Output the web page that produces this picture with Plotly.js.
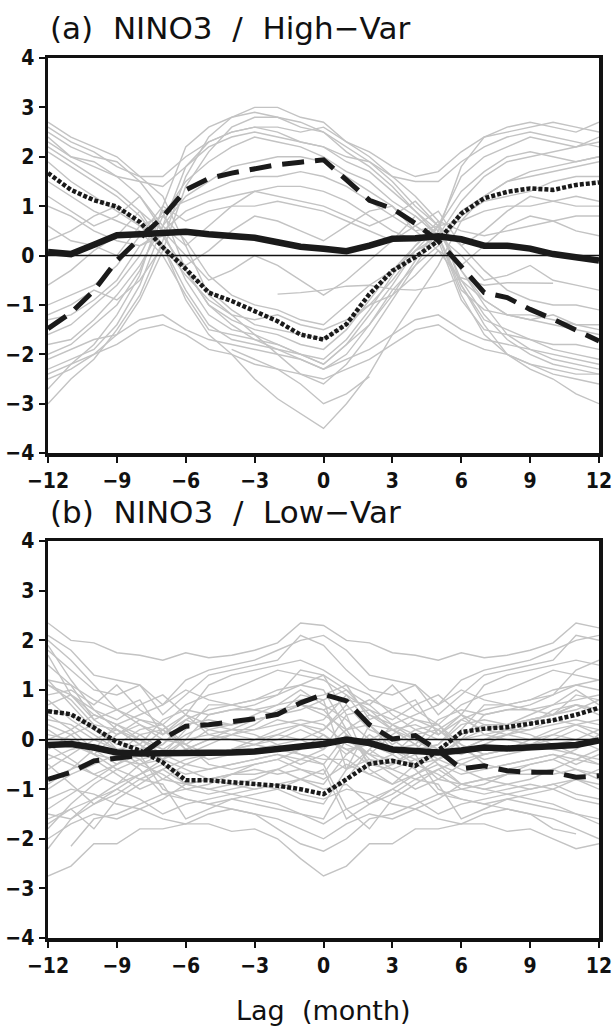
<!DOCTYPE html>
<html>
<head>
<meta charset="utf-8">
<script src="https://cdn.plot.ly/plotly-3.0.1.min.js"></script>
<style>html,body{margin:0;padding:0;background:#fff;}#chart{width:615px;height:1026px;}</style>
</head>
<body>
<div id="chart"></div>
<script>
const lags = [-12,-11,-10,-9,-8,-7,-6,-5,-4,-3,-2,-1,0,1,2,3,4,5,6,7,8,9,10,11,12];
const xTickVals = [-12,-9,-6,-3,0,3,6,9,12];
const yTickVals = [-4,-3,-2,-1,0,1,2,3,4];
const panelTitles = ["(a)\u00a0 NINO3\u00a0 /\u00a0 High\u2212Var", "(b)\u00a0 NINO3\u00a0 /\u00a0 Low\u2212Var"];
const xTitle = "Lag\u00a0 (month)";

// Panel (a) black curves
const aSolid  = [0.07,0.03,0.22,0.41,0.43,0.45,0.48,0.43,0.39,0.36,0.27,0.18,0.14,0.09,0.2,0.34,0.35,0.39,0.33,0.2,0.2,0.14,0.03,-0.03,-0.1];
const aDashed = [-1.48,-1.16,-0.71,-0.1,0.35,0.78,1.33,1.56,1.67,1.75,1.84,1.89,1.94,1.53,1.12,0.95,0.65,0.3,-0.24,-0.75,-0.85,-1.09,-1.29,-1.5,-1.73];
const aDotted = [1.67,1.33,1.12,0.99,0.68,0.17,-0.27,-0.75,-0.92,-1.12,-1.33,-1.6,-1.7,-1.39,-0.78,-0.31,-0.03,0.3,0.85,1.16,1.29,1.36,1.33,1.43,1.48];

// Panel (b) black curves
const bSolid  = [-0.11,-0.09,-0.16,-0.26,-0.28,-0.28,-0.29,-0.26,-0.26,-0.24,-0.2,-0.14,-0.09,0.0,-0.07,-0.2,-0.22,-0.26,-0.22,-0.16,-0.18,-0.16,-0.14,-0.11,-0.02];
const bDashed = [-0.8,-0.66,-0.43,-0.38,-0.32,0.01,0.27,0.3,0.35,0.42,0.51,0.74,0.91,0.78,0.3,0.01,0.08,-0.22,-0.59,-0.53,-0.63,-0.66,-0.66,-0.76,-0.73];
const bDotted = [0.57,0.51,0.24,-0.05,-0.22,-0.46,-0.82,-0.82,-0.86,-0.9,-0.93,-1.0,-1.1,-0.8,-0.49,-0.43,-0.53,-0.22,0.15,0.22,0.25,0.32,0.39,0.5,0.64];

// Panel (a) individual members (gray)
const aGray = [
 [2.7,2.4,2.2,2.0,1.6,1.2,0.2,-0.8,-1.2,-1.6,-2.0,-2.4,-2.6,-2.2,-1.6,-0.9,-0.2,0.5,1.8,2.4,2.6,2.7,2.6,2.5,2.7],
 [2.5,2.2,2.0,1.9,1.5,0.9,-0.3,-1.0,-1.4,-1.7,-1.9,-2.1,-2.3,-2.0,-1.4,-0.8,-0.1,0.6,1.6,2.0,2.2,2.4,2.3,2.2,2.4],
 [2.4,2.0,1.8,1.6,1.2,0.5,-0.5,-1.2,-1.5,-1.6,-1.8,-2.0,-2.2,-1.8,-1.2,-0.6,0.1,0.4,1.1,1.6,1.9,2.0,2.1,2.2,2.3],
 [2.2,1.9,1.6,1.3,0.9,0.2,-0.7,-1.4,-1.7,-1.8,-1.9,-2.0,-2.1,-1.7,-1.1,-0.4,0.2,0.6,1.3,1.7,2.0,2.1,2.0,1.9,2.0],
 [1.9,1.5,1.2,0.9,0.6,0.4,-0.3,-1.0,-1.3,-1.5,-1.6,-1.8,-1.9,-1.5,-0.9,-0.3,0.1,0.3,0.9,1.2,1.5,1.6,1.7,1.8,1.9],
 [1.5,1.2,0.9,0.7,0.5,0.0,-0.8,-1.5,-1.6,-1.7,-1.8,-2.0,-2.2,-1.8,-1.4,-0.7,-0.2,0.2,0.8,1.1,1.2,1.3,1.5,1.6,1.6],
 [1.0,0.8,0.5,0.3,0.2,0.4,-0.3,-0.7,-1.1,-1.4,-1.5,-1.6,-1.7,-1.4,-1.0,-0.5,0.1,0.6,0.7,0.9,1.0,1.0,1.1,1.2,1.1],
 [0.6,0.3,0.2,0.0,0.6,0.8,0.3,-0.4,-0.8,-1.0,-1.1,-1.3,-1.4,-1.0,-0.6,-0.3,0.2,0.7,0.5,0.4,0.5,0.6,0.7,0.8,0.8],
 [2.1,1.8,1.5,1.2,0.8,0.2,-0.9,-1.6,-2.0,-2.5,-2.9,-3.2,-3.5,-3.0,-2.4,-1.6,-0.9,-0.2,0.7,1.2,1.5,1.7,1.8,1.9,2.0],
 [null,null,null,null,null,null,null,null,-1.9,-2.1,-2.3,-2.6,-3.0,-2.8,-2.45,null,null,null,null,null,null,null,null,null,null],
 [-3.0,-2.5,-2.1,-1.5,-0.8,0.3,1.6,2.4,2.8,3.0,3.0,2.8,2.7,2.3,2.0,1.6,1.2,0.7,-0.6,-1.4,-2.0,-2.3,-2.5,-2.8,-3.0],
 [-2.5,-2.3,-2.0,-1.6,-0.9,0.1,1.4,2.1,2.6,2.8,2.8,2.7,2.5,2.2,1.9,1.5,1.0,0.6,-0.5,-1.2,-1.7,-2.0,-2.2,-2.3,-2.4],
 [-2.3,-2.1,-1.9,-1.4,-0.6,0.6,1.8,2.3,2.5,2.6,2.5,2.3,2.2,1.9,1.7,1.3,0.9,0.5,-0.3,-1.0,-1.6,-1.9,-2.1,-2.2,-2.3],
 [-2.0,-1.8,-1.4,-1.0,-0.3,0.8,1.5,1.9,2.2,2.4,2.3,2.2,2.0,1.7,1.5,1.1,0.8,0.4,-0.6,-1.3,-1.5,-1.7,-1.9,-2.0,-2.1],
 [-1.8,-1.7,-1.3,-0.8,-0.2,0.6,1.2,1.5,1.8,1.9,2.0,2.0,1.9,1.6,1.3,1.0,0.6,0.3,-0.9,-1.5,-1.6,-1.7,-1.8,-1.8,-1.9],
 [-1.6,-1.4,-1.0,-0.6,0.0,0.9,1.1,1.3,1.5,1.6,1.6,1.7,1.6,1.4,1.1,0.8,0.5,0.6,-0.3,-0.9,-1.2,-1.3,-1.4,-1.5,-1.6],
 [-1.3,-1.2,-0.9,-0.5,0.2,0.5,0.9,1.1,1.2,1.3,1.4,1.4,1.3,1.1,0.8,0.5,0.3,0.4,-0.7,-1.1,-1.2,-1.2,-1.3,-1.4,-1.4],
 [-1.0,-0.8,-0.6,-0.2,0.4,1.0,0.7,0.9,1.0,1.0,1.1,1.0,0.9,0.7,0.5,0.3,0.6,0.9,0.2,-0.3,-0.7,-0.9,-1.0,-1.0,-1.1],
 [-2.7,-2.2,-1.8,-1.2,-0.4,1.0,2.2,2.6,2.8,2.9,2.8,2.6,2.5,2.1,1.8,1.4,0.9,0.4,-0.8,-1.6,-2.0,-2.2,-2.4,-2.5,-2.6],
 [2.6,2.3,2.1,1.8,1.6,1.6,2.0,2.3,2.5,2.6,2.6,2.5,2.6,2.3,2.1,1.8,1.6,1.7,2.1,2.4,2.5,2.6,2.7,2.6,2.5],
 [2.3,2.0,1.9,1.6,1.5,1.4,1.8,2.2,2.4,2.5,2.4,2.3,2.2,2.0,1.9,1.6,1.5,1.5,1.9,2.2,2.4,2.5,2.4,2.3,2.2],
 [-2.4,-2.2,-2.0,-1.8,-1.5,-1.4,-1.6,-1.9,-2.0,-2.2,-2.3,-2.4,-2.5,-2.3,-2.1,-1.8,-1.5,-1.4,-1.7,-1.9,-2.0,-2.2,-2.3,-2.4,-2.4],
 [-2.1,-1.9,-1.7,-1.6,-1.3,-1.2,-1.5,-1.7,-1.8,-1.9,-2.0,-2.1,-2.3,-2.1,-1.9,-1.6,-1.3,-1.2,-1.5,-1.7,-1.8,-1.9,-2.0,-2.1,-2.2],
 [0.3,0.5,0.8,1.0,0.6,0.2,-0.2,0.1,0.5,0.8,0.7,0.5,0.3,0.6,0.9,1.0,0.5,0.1,-0.2,0.2,0.6,0.8,0.7,0.5,0.4],
 [-0.6,-0.3,0.1,0.4,0.9,0.5,0.0,-0.5,-0.3,0.0,-0.2,-0.5,-0.8,-0.5,-0.1,0.3,0.8,0.4,0.0,-0.5,-0.4,-0.2,-0.5,-0.6,-0.7],
 [1.2,0.9,0.6,0.8,1.2,0.6,0.2,0.6,1.0,1.3,1.2,1.1,1.0,0.8,0.6,0.8,1.1,0.6,0.2,0.5,0.9,1.2,1.1,1.0,1.0],
 [-1.2,-1.0,-0.7,-0.9,-0.5,0.2,-0.4,-0.9,-1.2,-1.3,-1.2,-1.4,-1.5,-1.3,-1.0,-0.8,-0.4,0.1,-0.5,-0.9,-1.2,-1.3,-1.2,-1.4,-1.5],
 [null,null,null,null,null,null,null,null,null,null,-0.78,-0.75,-0.7,-0.62,-0.6,-0.68,-0.7,-0.62,-0.45,-0.6,-0.55,-0.55,-0.56,null,null]
];

// Panel (b) individual members (gray)
const bGray = [
 [2.35,2.0,1.95,1.75,1.7,1.6,1.75,1.65,1.7,1.8,1.95,2.35,2.3,2.0,1.95,1.75,1.7,1.6,1.75,1.65,1.7,1.8,1.95,2.35,2.25],
 [2.1,1.8,1.3,1.2,1.1,0.7,1.2,1.4,1.5,1.6,1.8,2.0,2.1,1.8,1.3,1.2,1.1,0.7,1.2,1.4,1.5,1.6,1.8,2.0,2.1],
 [1.8,1.4,1.0,0.9,1.1,0.5,0.9,1.3,1.4,1.5,1.6,2.1,1.9,1.4,1.0,0.9,1.1,0.5,0.9,1.3,1.4,1.5,1.6,2.1,2.0],
 [1.2,1.1,0.4,0.6,0.8,0.1,0.5,1.1,1.3,1.4,1.5,1.6,1.4,1.1,0.4,0.6,0.8,0.1,0.5,1.1,1.3,1.4,1.5,1.6,1.5],
 [0.6,0.5,0.2,-0.1,0.2,0.3,0.7,0.9,1.0,1.2,1.4,1.3,1.2,0.9,0.3,-0.1,0.2,0.3,0.7,0.9,1.0,1.2,1.4,1.3,1.2],
 [1.1,0.9,0.4,0.1,0.3,0.1,0.4,0.6,0.7,0.8,1.0,1.1,1.3,1.0,0.5,0.2,0.3,0.1,0.4,0.6,0.7,0.8,1.0,1.1,1.2],
 [2.0,1.6,1.1,0.6,0.3,0.0,-0.1,0.2,0.3,0.5,0.7,0.8,0.9,1.1,0.9,0.5,0.2,0.0,0.0,0.2,0.3,0.5,0.7,0.8,0.9],
 [1.7,0.9,0.5,0.3,0.1,-0.2,-0.3,-0.1,0.1,0.3,0.6,0.7,0.6,0.8,0.7,0.3,0.1,-0.2,-0.3,-0.1,0.1,0.3,0.6,0.7,0.6],
 [0.9,1.0,0.7,1.1,0.6,0.3,-0.2,0.0,0.2,0.4,0.5,0.6,0.8,1.0,0.7,1.1,0.6,0.3,-0.2,0.0,0.2,0.4,0.5,0.6,0.8],
 [0.4,0.3,0.0,-0.2,-0.1,0.4,0.6,0.5,0.6,0.6,0.7,1.0,0.7,0.4,0.0,-0.2,-0.1,0.4,0.6,0.5,0.6,0.6,0.7,1.0,0.7],
 [-0.2,0.1,0.3,0.2,0.0,-0.2,0.1,0.3,0.3,0.4,0.5,0.7,0.5,0.2,0.3,0.2,0.0,-0.2,0.1,0.3,0.3,0.4,0.5,0.7,0.5],
 [0.2,-0.1,-0.3,-0.4,-0.5,-0.3,0.0,0.1,0.2,0.2,0.3,0.4,0.3,-0.1,-0.3,-0.4,-0.5,-0.3,0.0,0.1,0.2,0.2,0.3,0.4,0.3],
 [-0.6,-0.3,0.0,0.2,-0.1,-0.4,-0.2,0.0,0.1,0.0,0.2,0.3,0.1,-0.3,0.0,0.2,-0.1,-0.4,-0.2,0.0,0.1,0.0,0.2,0.3,0.1],
 [-1.0,-0.7,-0.5,-0.3,0.1,0.2,-0.1,-0.3,-0.2,-0.1,0.0,0.2,0.0,-0.2,-0.5,-0.3,0.1,0.2,-0.1,-0.3,-0.2,-0.1,0.0,0.2,0.0],
 [-1.4,-1.1,-0.8,-0.5,-0.2,-0.1,0.3,0.4,0.3,0.4,0.5,0.7,0.6,0.1,-0.4,-0.5,-0.2,-0.1,0.3,0.4,0.3,0.4,0.5,0.7,0.6],
 [-1.8,-1.3,-0.9,-0.6,-0.4,-0.3,0.2,0.7,0.7,0.8,0.9,1.1,1.0,0.2,-0.5,-0.6,-0.4,-0.3,0.2,0.7,0.7,0.8,0.9,1.1,1.0],
 [-2.2,-1.6,-1.2,-0.9,-0.5,-0.4,0.0,0.5,0.6,0.7,0.9,1.4,1.3,0.5,-0.6,-0.9,-0.5,-0.4,0.0,0.5,0.6,0.7,0.9,1.4,1.6],
 [0.3,0.1,-0.3,-0.6,-0.8,-0.6,-0.4,-0.3,-0.2,-0.1,-0.2,-0.3,-0.5,0.1,-0.3,-0.6,-0.8,-0.6,-0.4,-0.3,-0.2,-0.1,-0.2,-0.3,-0.5],
 [0.8,0.4,0.1,-0.2,-0.4,-0.8,-0.9,-0.8,-0.7,-0.7,-0.6,-0.8,-0.9,-0.3,0.1,-0.2,-0.4,-0.8,-0.9,-0.8,-0.7,-0.7,-0.6,-0.8,-0.9],
 [1.1,0.8,0.3,-0.2,-0.5,-0.7,-1.0,-1.1,-1.0,-0.9,-1.0,-1.2,-1.3,-0.6,0.3,-0.2,-0.5,-0.7,-1.0,-1.1,-1.0,-0.9,-1.0,-1.2,-1.3],
 [0.5,0.2,-0.2,-0.5,-0.3,-1.0,-1.2,-1.3,-1.2,-1.3,-1.4,-1.5,-1.6,-0.8,-0.2,-0.5,-0.3,-1.0,-1.2,-1.3,-1.2,-1.3,-1.4,-1.5,-1.6],
 [-0.3,-0.5,-0.7,-0.9,-0.7,-0.4,-0.6,-0.8,-0.7,-0.6,-0.7,-0.6,-0.8,-0.5,-0.7,-0.9,-0.7,-0.4,-0.6,-0.8,-0.7,-0.6,-0.7,-0.6,-0.8],
 [-0.8,-0.6,-0.4,-0.7,-1.0,-0.8,-0.5,-0.6,-0.5,-0.4,-0.3,-0.5,-0.3,-0.6,-0.4,-0.7,-1.0,-0.8,-0.5,-0.6,-0.5,-0.4,-0.3,-0.5,-0.3],
 [-1.2,-1.0,-1.1,-1.3,-1.4,-1.2,-0.9,-0.8,-0.9,-1.0,-0.9,-1.1,-1.2,-1.0,-1.1,-1.3,-1.4,-1.2,-0.9,-0.8,-0.9,-1.0,-0.9,-1.1,-1.2],
 [-1.6,-1.4,-1.2,-1.0,-1.2,-1.5,-1.3,-1.2,-1.1,-1.2,-1.3,-1.5,-1.7,-1.4,-1.2,-1.0,-1.2,-1.5,-1.3,-1.2,-1.1,-1.2,-1.3,-1.5,-1.7],
 [-2.0,-1.7,-1.5,-1.6,-1.4,-1.6,-1.7,-1.5,-1.4,-1.5,-1.6,-1.8,-2.0,-1.7,-1.5,-1.6,-1.4,-1.6,-1.7,-1.5,-1.4,-1.5,-1.6,-1.8,-2.0],
 [-2.75,-2.55,-2.1,-2.1,-1.8,-1.8,-1.7,-1.7,-1.85,-1.8,-2.0,-2.4,-2.75,-2.55,-2.1,-2.1,-1.8,-1.8,-1.7,-1.7,-1.85,-1.8,-2.0,-2.2,-2.1],
 [null,-2.15,-1.6,-1.5,-1.3,-1.1,-1.2,-1.3,-1.4,-1.5,-1.8,-2.1,-2.25,-2.0,-1.6,-1.5,-1.3,-1.1,-1.2,-1.3,-1.4,-1.5,-1.8,-1.9,null],
 [-0.5,-0.9,-1.3,-1.0,-0.7,-0.5,-0.9,-1.0,-1.1,-1.0,-0.9,-0.8,-1.0,-0.9,-1.3,-1.0,-0.7,-0.5,-0.9,-1.0,-1.1,-1.0,-0.9,-0.8,-1.0],
 [0.0,0.2,0.5,0.3,0.0,-0.3,-0.5,-0.3,-0.2,0.0,0.1,0.0,-0.2,0.2,0.5,0.3,0.0,-0.3,-0.5,-0.3,-0.2,0.0,0.1,0.0,-0.2],
 [-0.1,-0.4,-0.7,-0.5,-0.2,0.2,0.5,0.3,0.2,0.1,-0.1,-0.3,-0.4,-0.4,-0.7,-0.5,-0.2,0.2,0.5,0.3,0.2,0.1,-0.1,-0.3,-0.4],
 [1.5,1.1,0.8,0.6,0.4,0.2,-0.2,-0.4,-0.3,-0.2,-0.1,0.0,0.2,0.6,0.8,0.6,0.4,0.2,-0.2,-0.4,-0.3,-0.2,-0.1,0.0,0.2],
 [1.9,1.2,0.6,0.2,-0.1,-0.5,-0.7,-0.6,-0.5,-0.4,-0.3,-0.4,-0.2,0.5,0.6,0.2,-0.1,-0.5,-0.7,-0.6,-0.5,-0.4,-0.3,-0.4,-0.2],
 [-0.9,-0.6,-0.2,0.3,0.5,0.7,1.0,0.8,0.7,0.6,0.5,0.9,0.8,-0.6,-0.2,0.3,0.5,0.7,1.0,0.8,0.7,0.6,0.5,0.9,0.8],
 [-1.5,-1.6,-1.3,-1.1,-0.8,-0.9,-1.6,-1.4,-1.2,-1.1,-1.0,-0.8,-0.6,-1.6,-1.3,-1.1,-0.8,-0.9,-1.6,-1.4,-1.2,-1.1,-1.0,-0.8,-0.6],
 [0.7,0.9,0.6,0.4,0.7,0.9,0.5,0.1,0.0,-0.1,0.1,0.3,0.4,0.9,0.6,0.4,0.7,0.9,0.5,0.1,0.0,-0.1,0.1,0.3,0.4],
 [-0.4,-0.2,-0.1,-0.3,-0.6,-1.1,-1.0,-0.9,-0.7,-0.5,-0.4,-0.2,0.1,-0.2,-0.1,-0.3,-0.6,-1.1,-1.0,-0.9,-0.7,-0.5,-0.4,-0.2,0.1],
 [0.1,0.0,-0.3,0.1,0.4,0.3,-0.1,-0.5,-0.6,-0.5,-0.4,-0.6,-0.7,0.0,-0.3,0.1,0.4,0.3,-0.1,-0.5,-0.6,-0.5,-0.4,-0.6,-0.7],
 [1.2,0.7,0.2,0.0,-0.3,-0.1,0.4,0.2,0.1,0.2,0.4,0.3,0.2,0.7,0.2,0.0,-0.3,-0.1,0.4,0.2,0.1,0.2,0.4,0.3,0.2],
 [-1.7,-1.4,-1.8,-1.2,-0.9,-0.6,-0.9,-1.0,-0.9,-0.8,-0.6,-0.4,-0.5,-1.4,-1.8,-1.2,-0.9,-0.6,-0.9,-1.0,-0.9,-0.8,-0.6,-0.4,-0.5]
];

const GRAY = '#c3c3c3';
const BLACK = '#1a1a1a';
const traces = [];
function addGray(arr, xa, ya) {
  arr.forEach(v => traces.push({x: lags, y: v, xaxis: xa, yaxis: ya, type: 'scatter', mode: 'lines',
    line: {color: GRAY, width: 1.4}, connectgaps: false, hoverinfo: 'skip', showlegend: false}));
}
function addZero(xa, ya) {
  traces.push({x: [lags[0], lags[lags.length - 1]], y: [0, 0], xaxis: xa, yaxis: ya, mode: 'lines',
    line: {color: '#111', width: 1.6}, showlegend: false});
}
function addBlack(solid, dashed, dotted, xa, ya) {
  traces.push({x: lags, y: dashed, xaxis: xa, yaxis: ya, mode: 'lines', line: {color: BLACK, width: 5, dash: '22px,11px'}, showlegend: false});
  traces.push({x: lags, y: dotted, xaxis: xa, yaxis: ya, mode: 'lines', line: {color: BLACK, width: 4.5, dash: '4px,2px'}, showlegend: false});
  traces.push({x: lags, y: solid, xaxis: xa, yaxis: ya, mode: 'lines', line: {color: BLACK, width: 6.5}, showlegend: false});
}
addGray(aGray, 'x', 'y');
addGray(bGray, 'x2', 'y2');
addZero('x', 'y');
addZero('x2', 'y2');
addBlack(aSolid, aDashed, aDotted, 'x', 'y');
addBlack(bSolid, bDashed, bDotted, 'x2', 'y2');

const tickFont = {family: 'Liberation Sans Narrow, DejaVu Sans Condensed, Arial Narrow, sans-serif', size: 21, color: '#111', weight: 700};
function xAxis(anchor) {
  return {anchor: anchor, range: [-12, 12], tickvals: xTickVals, ticks: 'outside', ticklen: 6, tickwidth: 2, tickcolor: '#111',
    showline: true, linewidth: 3.5, linecolor: '#111', mirror: true, showgrid: false, zeroline: false,
    tickfont: tickFont, ticklabeloverflow: 'allow'};
}
function yAxis(anchor, domain) {
  return {anchor: anchor, domain: domain, range: [-4, 4], tickvals: yTickVals, ticks: 'outside', ticklen: 6, tickwidth: 2, tickcolor: '#111',
    showline: true, linewidth: 3.5, linecolor: '#111', mirror: true, showgrid: false,
    zeroline: false, tickfont: tickFont, ticklabeloverflow: 'allow'};
}
const titleFont = {family: 'DejaVu Sans, sans-serif', size: 31, color: '#111'};
const layout = {
  width: 615, height: 1026,
  margin: {l: 48, r: 16, t: 58, b: 88},
  paper_bgcolor: '#fff', plot_bgcolor: '#fff',
  showlegend: false,
  xaxis: xAxis('y'),
  yaxis: yAxis('x', [0.551, 1]),
  xaxis2: xAxis('y2'),
  yaxis2: yAxis('x2', [0, 0.451]),
  annotations: [
    {text: panelTitles[0], xref: 'paper', yref: 'paper', x: 0.0, y: 1.034, xanchor: 'left', yanchor: 'middle', showarrow: false, font: titleFont},
    {text: panelTitles[1], xref: 'paper', yref: 'paper', x: 0.0, y: 0.484, xanchor: 'left', yanchor: 'middle', showarrow: false, font: titleFont},
    {text: xTitle, xref: 'paper', yref: 'paper', x: 0.5, y: -0.082, xanchor: 'center', yanchor: 'middle', showarrow: false, font: {family: 'DejaVu Sans, sans-serif', size: 27, color: '#111'}}
  ]
};
Plotly.newPlot('chart', traces, layout, {staticPlot: true, displayModeBar: false});
</script>
</body>
</html>
